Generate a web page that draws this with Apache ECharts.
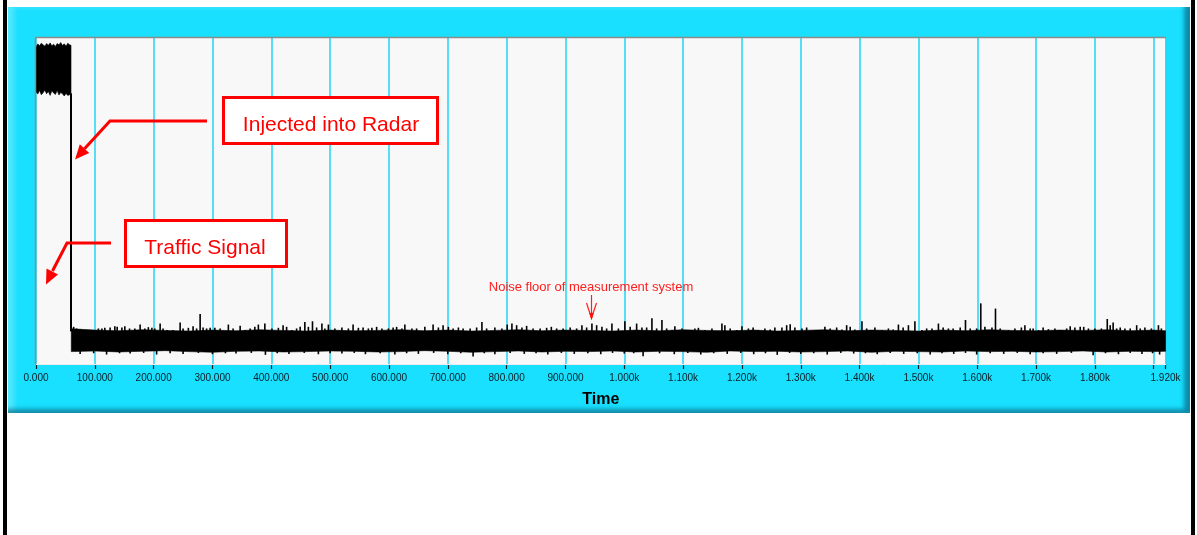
<!DOCTYPE html>
<html>
<head>
<meta charset="utf-8">
<script src="https://cdn.jsdelivr.net/npm/echarts@6/dist/echarts.min.js"></script>
<style>
  html, body { margin:0; padding:0; background:#ffffff; }
  #wrap { position:relative; width:1197px; height:535px; overflow:hidden; background:#fff; }
  .bar { position:absolute; top:0; height:535px; background:#000; }
  #panel { position:absolute; left:8px; top:7px; width:1182px; height:406px; background:#18e0fe;
           box-shadow: inset -6px -4px 4px rgba(0,70,100,0.55), inset 6px 0 5px rgba(255,255,255,0.25); }
  #chart { position:absolute; left:0; top:0; width:1197px; height:535px; }
</style>
</head>
<body>
<div id="wrap">
  <div class="bar" style="left:3px;width:4px"></div>
  <div class="bar" style="left:1191px;width:4px"></div>
  <div id="panel"></div>
  <div id="chart"></div>
</div>
<script>
// ---------- data ----------
const labelValues = [0,100,200,300,400,500,600,700,800,900,1000,1100,1200,1300,1400,1500,1600,1700,1800,1920];
const tickValues  = [0,100,200,300,400,500,600,700,800,900,1000,1100,1200,1300,1400,1500,1600,1700,1800,1900,1920];

// injected burst (0 .. ~60)
const burstT  = [0,3,6,9,12,15,18,21,24,27,30,33,36,39,42,45,48,51,54,57,59.5];
const burstHi = [97.2,98.2,97.6,98.4,97.9,97.5,98.3,97.8,98.5,97.6,98.1,97.4,98.3,97.9,98.6,97.7,98.2,97.5,98.4,97.9,97.8];
const burstLo = [83.5,82.8,83.9,82.6,83.2,84.0,82.9,83.6,82.4,83.8,83.1,82.7,83.9,82.5,83.3,82.9,82.2,83.0,82.4,82.6,82.8];

// drop of the signal at the end of the burst
const dropLine = [[59.5, 83.0], [59.5, 10.0]];

// noise floor body (every 40 time units from 60, plus 1920)
const noiseStart = 60, noiseStep = 40, noiseEnd = 1920;
const noiseHi = [
  10.8, 10.4, 10.2, 10.5, 10.3, 10.1, 10.4, 10.2,
  10.5, 10.3, 10.1, 10.4, 10.2, 10.3, 10.5, 10.2,
  10.4, 10.1, 10.3, 10.5, 10.2, 10.4, 10.3, 10.1,
  10.4, 10.2, 10.5, 10.3, 10.2, 10.4, 10.1, 10.3,
  10.5, 10.2, 10.4, 10.3, 10.1, 10.4, 10.2, 10.5,
  10.3, 10.2, 10.4, 10.3, 10.5, 10.2, 10.4, 10.2];
const noiseLo = [
  3.8, 4.0, 3.7, 3.9, 4.1, 3.8, 3.6, 3.9,
  4.0, 3.7, 3.8, 4.0, 3.9, 3.7, 3.8, 4.1,
  3.9, 3.6, 3.8, 4.0, 3.7, 3.9, 3.8, 4.0,
  3.7, 3.9, 3.8, 3.6, 4.0, 3.8, 3.9, 3.7,
  3.8, 4.0, 3.6, 3.9, 3.8, 3.7, 4.0, 3.8,
  3.9, 3.7, 3.8, 4.0, 3.7, 3.9, 3.8, 3.9];

// upward noise peaks [time, value]
const peaksUp = [
 [64,11.4],[69,10.9],[75,10.7],[83,10.4],[95,10.1],[106,10.9],[112,10.9],[117,11.1],[126,11.2],[134,11.6],
 [138,11.4],[146,11.2],[151,11.6],[159,10.9],[168,10.9],[177,12.1],[185,10.9],[191,11.3],[197,11.1],[202,10.9],
 [211,12.4],[216,10.9],[223,10.4],[233,10.4],[245,12.7],[250,10.9],[259,11.1],[267,11.6],[273,10.9],[279,15.3],
 [284,11.2],[290,10.9],[296,11.1],[304,11.1],[313,10.9],[327,12.1],[335,10.9],[347,11.7],[355,10.4],[364,10.9],
 [372,11.4],[378,12.1],[389,12.4],[401,10.9],[412,11.1],[420,11.9],[426,11.4],[435,10.4],[443,10.9],[449,11.4],
 [457,12.9],[463,11.4],[470,13.1],[477,11.2],[486,12.4],[491,10.9],[497,12.1],[508,10.9],[520,11.2],[531,10.9],
 [539,12.1],[548,11.1],[556,11.2],[565,10.9],[571,11.1],[579,11.4],[588,10.9],[599,10.9],[607,11.2],[613,11.4],
 [622,10.9],[627,12.1],[639,10.9],[647,10.9],[661,11.4],[675,12.1],[684,11.2],[692,11.9],[701,11.4],[709,10.9],
 [718,11.2],[726,10.9],[738,10.9],[749,11.2],[758,12.9],[766,10.9],[780,11.2],[792,10.9],[801,12.1],[809,12.4],
 [817,11.9],[826,11.2],[834,11.7],[845,10.9],[857,10.9],[868,11.1],[876,11.4],[885,10.9],[896,10.9],[908,11.2],
 [919,10.9],[928,11.9],[936,11.2],[945,12.4],[953,11.9],[962,11.4],[970,10.9],[979,12.4],[990,10.9],[1001,13.1],
 [1010,11.4],[1021,12.4],[1030,11.2],[1038,11.2],[1047,14.0],[1055,10.9],[1064,13.5],[1072,10.9],[1081,10.4],[1086,11.6],
 [1098,10.9],[1106,10.4],[1120,10.9],[1126,11.1],[1137,10.4],[1149,10.9],[1166,12.4],[1171,11.9],[1180,10.9],[1191,10.4],
 [1200,11.6],[1211,10.9],[1219,11.2],[1228,10.4],[1239,10.9],[1248,10.6],[1256,11.2],[1268,11.2],[1276,11.9],[1282,12.2],
 [1290,11.2],[1302,10.9],[1310,11.2],[1341,11.4],[1350,10.9],[1361,11.2],[1370,10.6],[1378,11.9],[1384,11.4],[1392,10.6],
 [1404,13.1],[1412,10.9],[1426,11.2],[1438,10.4],[1449,10.9],[1457,10.6],[1466,12.1],[1474,11.2],[1483,11.9],[1494,13.1],
 [1506,10.4],[1514,10.9],[1523,10.9],[1534,12.4],[1542,11.2],[1551,10.9],[1559,10.9],[1571,11.2],[1580,13.5],[1588,10.9],
 [1599,10.9],[1606,18.6],[1613,11.4],[1625,11.2],[1631,17.0],[1639,10.9],[1653,10.4],[1664,10.9],[1675,11.2],[1681,11.9],
 [1690,10.9],[1695,10.9],[1704,10.4],[1712,11.2],[1721,10.7],[1732,10.9],[1741,10.4],[1752,10.9],[1758,11.6],[1766,11.2],
 [1775,11.4],[1781,11.4],[1789,10.9],[1800,10.9],[1811,10.9],[1821,13.8],[1826,11.9],[1831,12.7],[1837,10.9],[1843,11.2],
 [1851,10.9],[1860,10.9],[1871,11.9],[1877,10.9],[1885,11.2],[1896,10.9],[1908,11.9],[1913,10.9]];

// downward noise peaks [time, value]
const peaksDown = [
 [75,3.1],[98,3.3],[120,2.9],[142,3.3],[160,3.2],[183,3.4],[205,2.9],[228,3.3],[250,3.1],[276,3.4],
 [300,3.0],[322,3.3],[340,3.2],[366,3.4],[390,2.8],[410,3.3],[430,3.1],[456,3.4],[480,3.0],[500,3.3],
 [520,3.2],[541,3.4],[560,3.0],[585,3.3],[610,2.9],[630,3.3],[650,3.1],[676,3.4],[700,3.0],[722,3.3],
 [743,2.3],[762,3.3],[780,3.0],[806,3.4],[830,3.1],[850,3.3],[870,2.9],[893,3.4],[915,3.1],[938,3.3],
 [960,3.0],[980,3.4],[1000,3.2],[1016,3.3],[1032,2.4],[1060,3.3],[1085,3.0],[1108,3.4],[1130,2.9],[1152,3.3],
 [1175,3.1],[1198,3.4],[1220,3.0],[1240,3.3],[1260,2.8],[1281,3.4],[1300,3.1],[1322,3.3],[1345,2.9],[1368,3.4],
 [1390,3.2],[1410,3.3],[1430,3.0],[1452,3.4],[1475,3.1],[1498,3.3],[1520,2.9],[1540,3.3],[1560,3.1],[1580,3.4],
 [1599,2.9],[1622,3.3],[1645,3.1],[1668,3.4],[1690,3.0],[1712,3.3],[1735,3.1],[1760,3.4],[1797,2.7],[1818,3.3],
 [1840,3.0],[1860,3.4],[1880,3.1],[1898,3.3],[1910,2.9]];

// ---------- chart ----------
const noiseT = [];
for (let t = noiseStart; t < noiseEnd; t += noiseStep) noiseT.push(t);
noiseT.push(noiseEnd);

const FONT = 'Liberation Sans, Arial, sans-serif';

function band(ts, hi, lo) {
  const n = Math.min(ts.length, hi.length, lo.length);
  return {
    type: 'custom', silent: true, clip: false, z: 3,
    data: [[ts[0], hi[0]]],
    renderItem: function (params, api) {
      const pts = [];
      for (let i = 0; i < n; i++) pts.push(api.coord([ts[i], hi[i]]));
      for (let i = n - 1; i >= 0; i--) pts.push(api.coord([ts[i], lo[i]]));
      return { type: 'polygon', shape: { points: pts }, style: { fill: '#000', stroke: '#000', lineWidth: 0.6 } };
    }
  };
}
function peaks(list, base) {
  return {
    type: 'custom', silent: true, z: 4,
    data: list,
    renderItem: function (params, api) {
      const t = api.value(0), v = api.value(1);
      const a = api.coord([t, base]), b = api.coord([t, v]);
      return { type: 'line', shape: { x1: a[0], y1: a[1], x2: b[0], y2: b[1] },
               style: { stroke: '#000', lineWidth: 1.6 } };
    }
  };
}

const chart = echarts.init(document.getElementById('chart'), null, { renderer: 'canvas' });
const RED = '#ff0000';
chart.setOption({
  animation: false,
  backgroundColor: 'transparent',
  grid: { left: 36, right: 31.5, top: 38, bottom: 171, show: true, backgroundColor: '#f8f8f8', borderWidth: 0 },
  xAxis: {
    type: 'value', min: 0, max: 1920, interval: 100, offset: 3,
    axisLine: { show: false },
    axisTick: { show: true, length: 5, customValues: tickValues, lineStyle: { color: '#10202a', width: 1.2 } },
    axisLabel: {
      customValues: labelValues, margin: 6, fontSize: 10, fontFamily: FONT, color: '#0a1e28',
      formatter: function (v) { return v < 1000 ? v.toFixed(3) : (v / 1000).toFixed(3) + 'k'; }
    },
    splitLine: { show: true, lineStyle: { color: '#22d6f6', width: 1.5 } },
    name: 'Time', nameLocation: 'middle', nameGap: 25,
    nameTextStyle: { fontSize: 16, fontWeight: 'bold', color: '#000', fontFamily: FONT }
  },
  yAxis: {
    type: 'value', min: 0, max: 100,
    axisLine: { show: false }, axisTick: { show: false }, axisLabel: { show: false }, splitLine: { show: false }
  },
  series: [
    band(burstT, burstHi, burstLo),
    band(noiseT, noiseHi, noiseLo),
    { type: 'line', data: dropLine, showSymbol: false, silent: true, z: 4,
      lineStyle: { color: '#000', width: 2 } },
    peaks(peaksUp, 9.8),
    peaks(peaksDown, 4.2)
  ],
  graphic: [
    // plot border (inset look)
    { type: 'line', z: 50, shape: { x1: 35.5, y1: 37.5, x2: 1166, y2: 37.5 }, style: { stroke: '#8c8c8c', lineWidth: 1.5 } },
    { type: 'line', z: 50, shape: { x1: 35.5, y1: 37.5, x2: 35.5, y2: 364 }, style: { stroke: '#8c8c8c', lineWidth: 1.5 } },
    { type: 'line', z: 50, shape: { x1: 36, y1: 364.5, x2: 1166, y2: 364.5 }, style: { stroke: '#ececec', lineWidth: 1 } },

    // "Injected into Radar"
    { type: 'rect', z: 60, shape: { x: 223.5, y: 97.5, width: 214, height: 46 }, style: { fill: '#ffffff', stroke: RED, lineWidth: 3 } },
    { type: 'text', z: 61, style: { text: 'Injected into Radar', x: 331, y: 125, align: 'center', verticalAlign: 'middle',
      fill: RED, fontSize: 21, fontFamily: FONT } },
    { type: 'polyline', z: 60, shape: { points: [[207, 121], [110, 121], [84.5, 148.7]] }, style: { stroke: RED, lineWidth: 3, fill: null } },
    { type: 'polygon', z: 60, shape: { points: [[75, 159.5], [89.2, 153], [79.8, 144.3]] }, style: { fill: RED } },

    // "Traffic Signal"
    { type: 'rect', z: 60, shape: { x: 125.5, y: 220.5, width: 161, height: 46 }, style: { fill: '#ffffff', stroke: RED, lineWidth: 3 } },
    { type: 'text', z: 61, style: { text: 'Traffic Signal', x: 205, y: 248, align: 'center', verticalAlign: 'middle',
      fill: RED, fontSize: 21, fontFamily: FONT } },
    { type: 'polyline', z: 60, shape: { points: [[111, 243], [67, 243], [52.5, 271]] }, style: { stroke: RED, lineWidth: 3, fill: null } },
    { type: 'polygon', z: 60, shape: { points: [[46, 284.5], [58, 274.5], [46.5, 268.5]] }, style: { fill: RED } },

    // "Noise floor of measurement system"
    { type: 'text', z: 61, style: { text: 'Noise floor of measurement system', x: 591, y: 287.5, align: 'center', verticalAlign: 'middle',
      fill: '#ff2020', fontSize: 13, fontFamily: FONT } },
    { type: 'line', z: 60, shape: { x1: 591.5, y1: 295, x2: 591.5, y2: 318 }, style: { stroke: '#ff2020', lineWidth: 1.2 } },
    { type: 'polyline', z: 60, shape: { points: [[586.5, 303], [591.5, 318], [596.5, 303]] }, style: { stroke: '#ff2020', lineWidth: 1.2, fill: null } },
    { type: 'polygon', z: 60, shape: { points: [[589.3, 313], [593.7, 313], [591.5, 320.5]] }, style: { fill: '#ff1010' } }
  ]
});
</script>
</body>
</html>
